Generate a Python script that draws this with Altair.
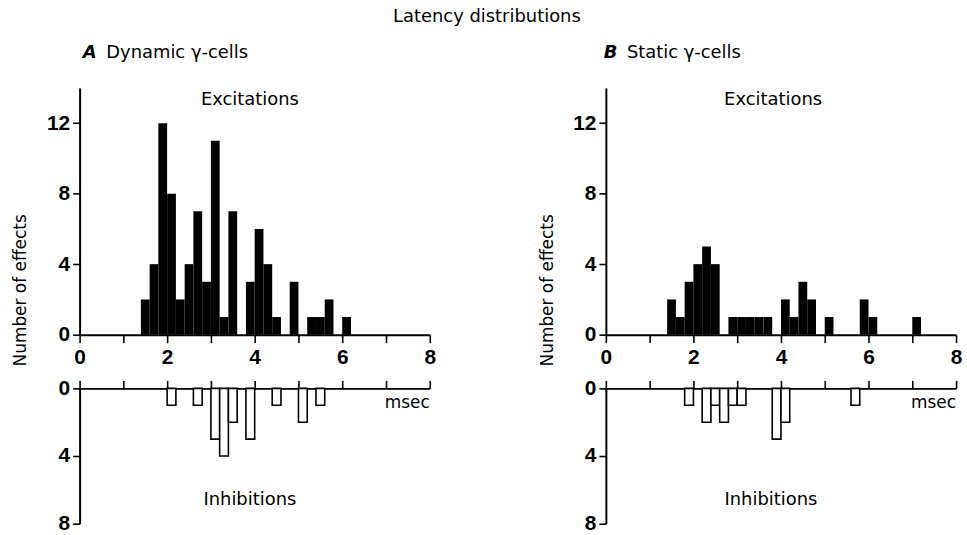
import altair as alt
import pandas as pd

BIN_WIDTH = 0.2

# Panel A - dynamic gamma cells
A_exc_bins = [1.4, 1.6, 1.8, 2.0, 2.2, 2.4, 2.6, 2.8, 3.0, 3.2, 3.4, 3.8, 4.0, 4.2, 4.4, 4.8, 5.2, 5.4, 5.6, 6.0]
A_exc_counts = [2, 4, 12, 8, 2, 4, 7, 3, 11, 1, 7, 3, 6, 4, 1, 3, 1, 1, 2, 1]
A_inh_bins = [2.0, 2.6, 3.0, 3.2, 3.4, 3.8, 4.4, 5.0, 5.4]
A_inh_counts = [1, 1, 3, 4, 2, 3, 1, 2, 1]

# Panel B - static gamma cells
B_exc_bins = [1.4, 1.6, 1.8, 2.0, 2.2, 2.4, 2.8, 3.0, 3.2, 3.4, 3.6, 4.0, 4.2, 4.4, 4.6, 5.0, 5.8, 6.0, 7.0]
B_exc_counts = [2, 1, 3, 4, 5, 4, 1, 1, 1, 1, 1, 2, 1, 3, 2, 1, 2, 1, 1]
B_inh_bins = [1.8, 2.2, 2.4, 2.6, 2.8, 3.0, 3.8, 4.0, 5.6]
B_inh_counts = [1, 2, 1, 2, 1, 1, 3, 2, 1]

X_TICKS = list(range(0, 9))
UPPER_TICKS = list(range(0, 15))
LOWER_TICKS = list(range(0, 9))

FONT = "DejaVu Sans"
TICK_FONT = "Liberation Sans"
W = 352
H_UP = 248
H_LO = 136


def bars_df(bins, counts):
    return pd.DataFrame({"start": bins,
                         "end": [b + BIN_WIDTH for b in bins],
                         "count": counts})


def axis_common():
    return dict(grid=False, domainColor="black", domainWidth=2, tickColor="black",
                tickWidth=1.6, labelColor="black", labelFont=TICK_FONT,
                labelFontSize=21, labelFontWeight="bold")


def upper(bins, counts, letter, name, letter_x, name_x, exc_x):
    xs = alt.Scale(domain=[0, 8], nice=False, zero=False)
    ys = alt.Scale(domain=[0, 14], nice=False)
    xaxis = alt.Axis(values=X_TICKS, title=None, tickSize=8, labelPadding=4,
                     labelExpr="datum.value % 2 == 0 ? datum.label : ''",
                     labelFlush=False, **axis_common())
    yaxis = alt.Axis(values=UPPER_TICKS, tickSize=7, labelPadding=3,
                     labelExpr="datum.value % 4 == 0 ? datum.label : ''",
                     title="Number of effects", titleFont=FONT, titleFontSize=17,
                     titleFontWeight="normal", titleColor="black", titleX=-59,
                     titleY=203, titleBaseline="middle", titleAngle=270,
                     **axis_common())
    bars = alt.Chart(bars_df(bins, counts)).mark_bar(color="black").encode(
        x=alt.X("start:Q", scale=xs, axis=xaxis),
        x2="end:Q",
        y=alt.Y("count:Q", scale=ys, axis=yaxis),
        y2=alt.datum(0),
    )
    letter_df = pd.DataFrame({"start": [letter_x], "count": [16.0], "t": [letter]})
    name_df = pd.DataFrame({"start": [name_x], "count": [16.0], "t": [name]})
    exc_df = pd.DataFrame({"start": [exc_x], "count": [13.3], "t": ["Excitations"]})
    lt = alt.Chart(letter_df).mark_text(align="left", baseline="middle", font=FONT,
                                        fontSize=18, fontStyle="italic",
                                        fontWeight="bold", color="black").encode(
        x=alt.X("start:Q", scale=xs), y=alt.Y("count:Q", scale=ys), text="t:N")
    nm = alt.Chart(name_df).mark_text(
        align="left", baseline="middle", font=FONT, fontSize=18, color="black").encode(
        x=alt.X("start:Q", scale=xs), y=alt.Y("count:Q", scale=ys), text="t:N")
    ex = alt.Chart(exc_df).mark_text(
        align="center", baseline="middle", font=FONT, fontSize=18, color="black").encode(
        x=alt.X("start:Q", scale=xs), y=alt.Y("count:Q", scale=ys), text="t:N")
    return alt.layer(bars, lt, nm, ex).properties(width=W, height=H_UP)


def lower(bins, counts, inh_x):
    xs = alt.Scale(domain=[0, 8], nice=False, zero=False)
    ys = alt.Scale(domain=[0, 8], nice=False, reverse=True)
    xaxis = alt.Axis(values=X_TICKS, title=None, orient="top", tickSize=8,
                     labels=False, **axis_common())
    yaxis = alt.Axis(values=LOWER_TICKS, tickSize=7, labelPadding=3, title=None,
                     labelExpr="datum.value % 4 == 0 ? datum.label : ''",
                     **axis_common())
    bars = alt.Chart(bars_df(bins, counts)).mark_bar(
        fill="white", stroke="black", strokeWidth=1.6).encode(
        x=alt.X("start:Q", scale=xs, axis=xaxis),
        x2="end:Q",
        y=alt.Y("count:Q", scale=ys, axis=yaxis),
        y2=alt.datum(0),
    )
    ms_df = pd.DataFrame({"start": [8.0], "count": [0.86], "t": ["msec"]})
    ih_df = pd.DataFrame({"start": [inh_x], "count": [6.6], "t": ["Inhibitions"]})
    ms = alt.Chart(ms_df).mark_text(align="right", baseline="middle",
                                    font=FONT, fontSize=17, color="black").encode(
        x=alt.X("start:Q", scale=xs), y=alt.Y("count:Q", scale=ys), text="t:N")
    ih = alt.Chart(ih_df).mark_text(align="center", baseline="middle",
                                    font=FONT, fontSize=18, color="black").encode(
        x=alt.X("start:Q", scale=xs), y=alt.Y("count:Q", scale=ys), text="t:N")
    return alt.layer(bars, ms, ih).properties(width=W, height=H_LO)


upA = upper(A_exc_bins, A_exc_counts, "A", "Dynamic \u03b3-cells", 0.07, 0.61, 3.89)
loA = lower(A_inh_bins, A_inh_counts, 3.89)
upB = upper(B_exc_bins, B_exc_counts, "B", "Static \u03b3-cells", -0.05, 0.48, 3.82)
loB = lower(B_inh_bins, B_inh_counts, 3.77)

chart = alt.concat(upA, upB, loA, loB, columns=2, bounds="flush",
                   spacing={"row": 54, "column": 177}).properties(
    title=alt.TitleParams("Latency distributions", anchor="middle", font=FONT,
                          fontSize=18, fontWeight="normal", color="black", offset=18),
    padding={"left": 12, "top": 6, "right": 5, "bottom": 0},
    background="white",
).configure_view(stroke=None)

chart.save("out.html", embed_options={"renderer": "svg", "actions": False})
